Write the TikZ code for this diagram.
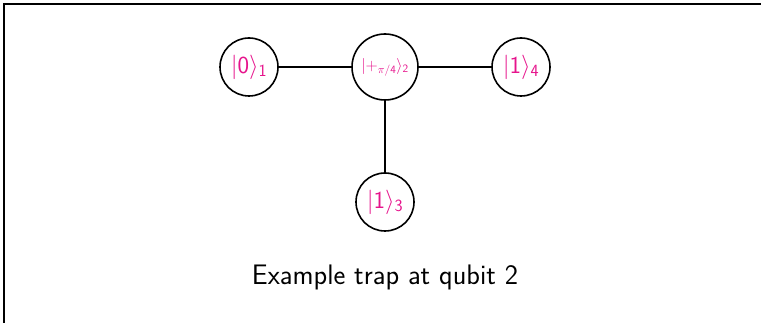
\documentclass[tikz,border=0pt]{standalone}
\usepackage{fix-cm}
\usepackage{xcolor}
\definecolor{ketpink}{RGB}{230,20,140}
\begin{document}
\begin{tikzpicture}[x=1pt,y=-1pt,
  qubit/.style={circle,draw=black,line width=1.6pt,inner sep=0pt,text=ketpink,font=\sffamily\fontsize{24.5}{29}\selectfont},
  link/.style={line width=1.6pt,draw=black}]
\useasboundingbox (0,0) rectangle (761,323);
\draw[line width=1.2pt] (4,323) -- (4,4) -- (761,4);
\node[qubit,minimum size=58pt] (q1) at (249,67) {$|\mathsf{0}\rangle_{\mathsf{1}}$};
\node[qubit,minimum size=66pt,font=\sffamily\fontsize{16}{19}\selectfont] (q2) at (385,67) {$|{+}_{\pi/\mathsf{4}}\rangle_{\mathsf{2}}$};
\node[qubit,minimum size=58pt] (q4) at (521,67) {$|\mathsf{1}\rangle_{\mathsf{4}}$};
\node[qubit,minimum size=58pt] (q3) at (385,202) {$|\mathsf{1}\rangle_{\mathsf{3}}$};
\draw[link] (q1) -- (q2);
\draw[link] (q2) -- (q4);
\draw[link] (q2) -- (q3);
\node[font=\sffamily\fontsize{28.2}{33}\selectfont] (cap) at (385,277) {Example trap at qubit 2};
\end{tikzpicture}
\end{document}
